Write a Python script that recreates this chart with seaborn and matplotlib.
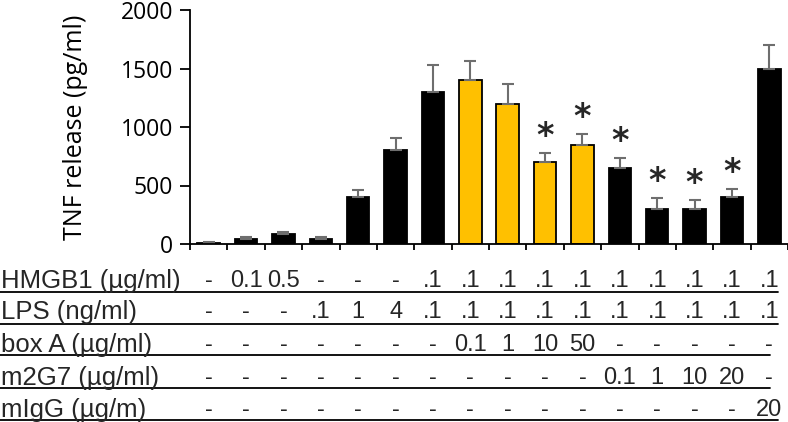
import numpy as np
import pandas as pd
import matplotlib.pyplot as plt
import seaborn as sns
from matplotlib.lines import Line2D

# bar heights and upper error (pg/ml)
tnf = [5, 45, 85, 45, 400, 800, 1300, 1400, 1200, 700, 850, 650, 300, 300, 400, 1500]
err = [10, 12, 15, 15, 60, 110, 230, 160, 170, 80, 90, 85, 90, 80, 70, 205]
boxa = [False]*7 + [True]*4 + [False]*5
star = [False]*9 + [True]*6 + [False]

row_names = ['HMGB1 (µg/ml)', 'LPS (ng/ml)', 'box A (µg/ml)', 'm2G7 (µg/ml)', 'mIgG (µg/m)']
hmgb1 = ['-', '0.1', '0.5', '-', '-', '-'] + ['.1']*10
lps = ['-', '-', '-', '.1', '1', '4'] + ['.1']*10
box_a = ['-']*7 + ['0.1', '1', '10', '50'] + ['-']*5
m2g7 = ['-']*11 + ['0.1', '1', '10', '20', '-']
migg = ['-']*15 + ['20']
rows = [hmgb1, lps, box_a, m2g7, migg]

df = pd.DataFrame({'grp': [str(i) for i in range(len(tnf))], 'tnf': tnf})
colors = ['#FFC000' if b else 'black' for b in boxa]

fig = plt.figure(figsize=(7.88, 4.22), dpi=100)
ax = fig.add_axes([190/788, 1-244/422, 598/788, 234/422])
sns.set_style('white')

sns.barplot(data=df, x='grp', y='tnf', hue='grp', palette=colors, legend=False,
            saturation=1, edgecolor='black', linewidth=1.3, width=0.6, ax=ax)
ax.errorbar(range(len(tnf)), tnf, yerr=[np.zeros(len(err)), err], fmt='none',
            ecolor='#6e6e6e', elinewidth=1.5, capsize=4, capthick=1.5, zorder=1)

for i, s in enumerate(star):
    if s:
        ax.annotate('*', (i, tnf[i] + err[i]), xytext=(0, 0), textcoords='offset points',
                    ha='center', va='bottom', fontsize=24, fontweight='bold')

ax.set_xlim(-0.5, len(tnf) - 0.5)
ax.set_ylim(0, 2000)
ax.set_yticks([0, 500, 1000, 1500, 2000])
ax.set_xticks(np.arange(-0.5, len(tnf), 1))
ax.set_xticklabels([])
ax.tick_params(axis='x', direction='out', length=4, width=1.3, color='black')
ax.tick_params(axis='y', direction='out', length=7, width=1.3, color='black',
               labelsize=16.5, pad=5)
for lab in ax.get_yticklabels():
    lab.set_family('Open Sans')
ax.set_xlabel('')
ax.set_ylabel('TNF release (pg/ml)', fontsize=18, family='Open Sans')
ax.yaxis.set_label_coords(-102/598, 0.5)
for side in ['top', 'right']:
    ax.spines[side].set_visible(False)
for side in ['left', 'bottom']:
    ax.spines[side].set_linewidth(1.3)
    ax.spines[side].set_color('black')

# condition table under the bars
trans = ax.get_xaxis_transform()
row_y = [281, 312, 345, 378, 410]
line_y = [292, 324, 355, 388, 420]
line_end = [778, 778, 770, 770, 778]
for name, vals, ty, ly, le in zip(row_names, rows, row_y, line_y, line_end):
    fig.text(1/788, 1 - ty/422, name, ha='left', va='center', fontsize=18.5,
             family='Liberation Sans')
    ya = (244 - ty) / 234
    for i, v in enumerate(vals):
        ax.text(i, ya, v, transform=trans, ha='center', va='center', fontsize=17,
                family='Liberation Sans', clip_on=False)
    fig.add_artist(Line2D([0, le/788], [1 - ly/422]*2, color='black', lw=1.3))

fig.savefig('out.png', dpi=100)
